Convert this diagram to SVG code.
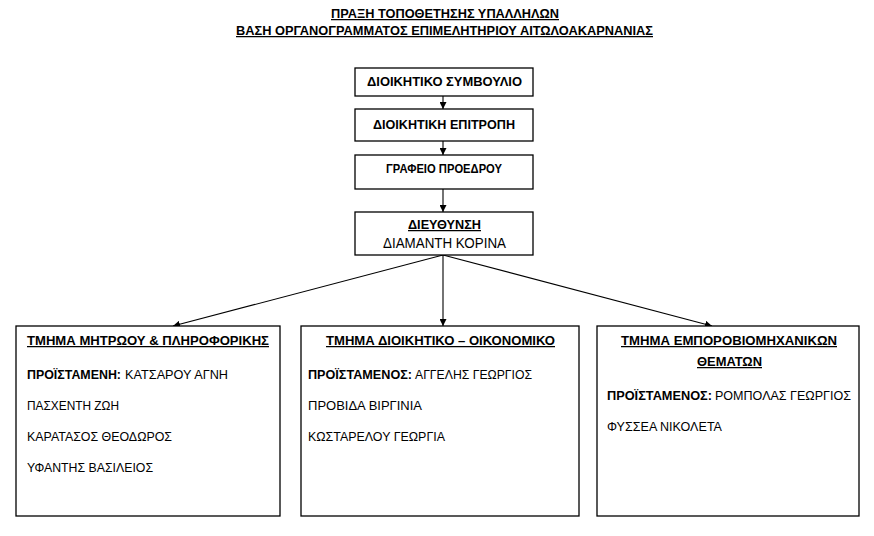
<svg xmlns="http://www.w3.org/2000/svg" width="874" height="536" viewBox="0 0 874 536">
<style>
text{font-family:"Liberation Sans",Arial,sans-serif;font-size:12.5px;fill:#000}
.b{font-weight:bold}
.u{text-decoration:underline}
.m{text-anchor:middle}
rect{fill:#fff;stroke:#000;stroke-width:1.3}
.c line{stroke:#000;stroke-width:1.1}
</style>
<defs>
<marker id="ah" viewBox="0 0 10 10" refX="10" refY="5" markerWidth="7" markerHeight="7" markerUnits="userSpaceOnUse" orient="auto">
<path d="M0,0 L10,5 L0,10 Z" fill="#000"/>
</marker>
</defs>
<rect x="0" y="0" width="874" height="536" style="stroke:none"/>
<g id="title">
<text class="b u m" x="445" y="18" textLength="228" lengthAdjust="spacingAndGlyphs">ΠΡΑΞΗ ΤΟΠΟΘΕΤΗΣΗΣ ΥΠΑΛΛΗΛΩΝ</text>
<text class="b u m" x="444.5" y="35" textLength="417" lengthAdjust="spacingAndGlyphs">ΒΑΣΗ ΟΡΓΑΝΟΓΡΑΜΜΑΤΟΣ ΕΠΙΜΕΛΗΤΗΡΙΟΥ ΑΙΤΩΛΟΑΚΑΡΝΑΝΙΑΣ</text>
</g>
<g class="c" id="connectors">
<line x1="443" y1="96" x2="443" y2="109" marker-end="url(#ah)"/>
<line x1="443" y1="141" x2="443" y2="155" marker-end="url(#ah)"/>
<line x1="443" y1="189" x2="443" y2="212" marker-end="url(#ah)"/>
<line x1="443" y1="255" x2="173" y2="326" marker-end="url(#ah)"/>
<line x1="443" y1="255" x2="443" y2="326" marker-end="url(#ah)"/>
<line x1="443" y1="255" x2="712" y2="326" marker-end="url(#ah)"/>
</g>
<g id="board">
<rect x="355" y="68" width="178" height="28"/>
<text class="b m" x="444.5" y="86" textLength="155" lengthAdjust="spacingAndGlyphs">ΔΙΟΙΚΗΤΙΚΟ ΣΥΜΒΟΥΛΙΟ</text>
</g>
<g id="committee">
<rect x="355" y="109" width="178" height="32"/>
<text class="b m" x="444" y="129" textLength="142" lengthAdjust="spacingAndGlyphs">ΔΙΟΙΚΗΤΙΚΗ ΕΠΙΤΡΟΠΗ</text>
</g>
<g id="office">
<rect x="355" y="155" width="178" height="34"/>
<text class="b m" x="444" y="173" textLength="116" lengthAdjust="spacingAndGlyphs">ΓΡΑΦΕΙΟ ΠΡΟΕΔΡΟΥ</text>
</g>
<g id="direction">
<rect x="355" y="212" width="178" height="43"/>
<text class="b u m" x="444.5" y="229" textLength="73" lengthAdjust="spacingAndGlyphs">ΔΙΕΥΘΥΝΣΗ</text>
<text class="m" x="444.5" y="248" style="font-size:14.5px" textLength="123" lengthAdjust="spacingAndGlyphs">ΔΙΑΜΑΝΤΗ ΚΟΡΙΝΑ</text>
</g>
<g id="dept1">
<rect x="16" y="326" width="264" height="190"/>
<text class="b u" x="27" y="345" textLength="242" lengthAdjust="spacingAndGlyphs">ΤΜΗΜΑ ΜΗΤΡΩΟΥ &amp; ΠΛΗΡΟΦΟΡΙΚΗΣ</text>
<text class="b" x="27" y="379" textLength="94" lengthAdjust="spacingAndGlyphs">ΠΡΟΪΣΤΑΜΕΝΗ:</text>
<text x="125" y="379" textLength="103" lengthAdjust="spacingAndGlyphs">ΚΑΤΣΑΡΟΥ ΑΓΝΗ</text>
<text x="27" y="410" textLength="92" lengthAdjust="spacingAndGlyphs">ΠΑΣΧΕΝΤΗ ΖΩΗ</text>
<text x="27" y="441" textLength="145" lengthAdjust="spacingAndGlyphs">ΚΑΡΑΤΑΣΟΣ ΘΕΟΔΩΡΟΣ</text>
<text x="27" y="472" textLength="126" lengthAdjust="spacingAndGlyphs">ΥΦΑΝΤΗΣ ΒΑΣΙΛΕΙΟΣ</text>
</g>
<g id="dept2">
<rect x="301" y="326" width="278" height="190"/>
<text class="b u m" x="440.5" y="345" textLength="229" lengthAdjust="spacingAndGlyphs">ΤΜΗΜΑ ΔΙΟΙΚΗΤΙΚΟ – ΟΙΚΟΝΟΜΙΚΟ</text>
<text class="b" x="308" y="379" textLength="104" lengthAdjust="spacingAndGlyphs">ΠΡΟΪΣΤΑΜΕΝΟΣ:</text>
<text x="415" y="379" textLength="117" lengthAdjust="spacingAndGlyphs">ΑΓΓΕΛΗΣ ΓΕΩΡΓΙΟΣ</text>
<text x="308" y="410" textLength="114" lengthAdjust="spacingAndGlyphs">ΠΡΟΒΙΔΑ ΒΙΡΓΙΝΙΑ</text>
<text x="308" y="441" textLength="137" lengthAdjust="spacingAndGlyphs">ΚΩΣΤΑΡΕΛΟΥ ΓΕΩΡΓΙΑ</text>
</g>
<g id="dept3">
<rect x="597" y="326" width="262" height="190"/>
<text class="b u m" x="729" y="345" textLength="216" lengthAdjust="spacingAndGlyphs">ΤΜΗΜΑ ΕΜΠΟΡΟΒΙΟΜΗΧΑΝΙΚΩΝ</text>
<text class="b u m" x="729.5" y="366" textLength="65" lengthAdjust="spacingAndGlyphs">ΘΕΜΑΤΩΝ</text>
<text class="b" x="607" y="400" textLength="105" lengthAdjust="spacingAndGlyphs">ΠΡΟΪΣΤΑΜΕΝΟΣ:</text>
<text x="715" y="400" textLength="136" lengthAdjust="spacingAndGlyphs">ΡΟΜΠΟΛΑΣ ΓΕΩΡΓΙΟΣ</text>
<text x="607" y="431" textLength="115" lengthAdjust="spacingAndGlyphs">ΦΥΣΣΕΑ ΝΙΚΟΛΕΤΑ</text>
</g>
</svg>
